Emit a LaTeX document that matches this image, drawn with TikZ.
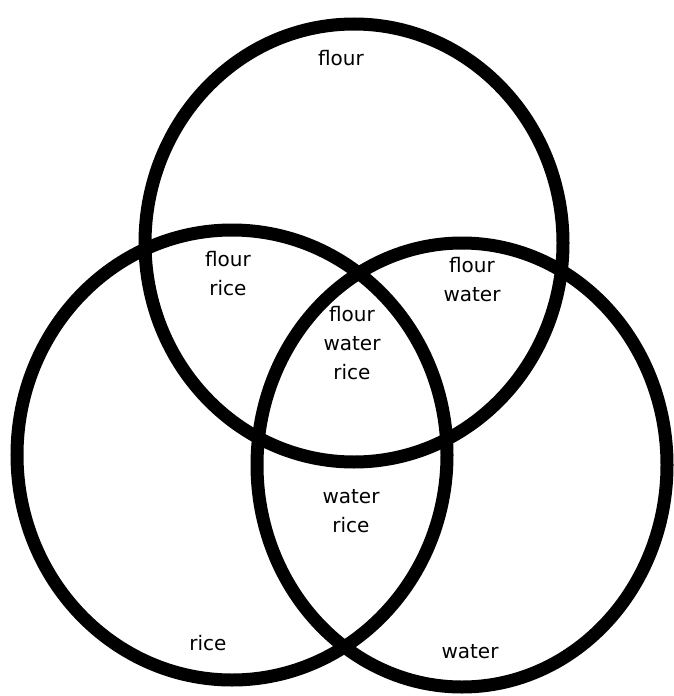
\documentclass[tikz,border=0pt]{standalone}
\usepackage{fontspec}
\setmainfont{DejaVu Sans}
\usepackage{tikz}

\begin{document}
\begin{tikzpicture}[
  x=0.5pt, y=-0.5pt,
  setline/.style={draw=black, line width=6.5pt},
  lbl/.style={align=center, font=\fontsize{10}{14.5}\selectfont, inner sep=0pt}
]
\useasboundingbox (0,0) rectangle (674,696);
% the three sets
\draw[setline] (354,243) ellipse [x radius=209, y radius=219];
\draw[setline] (232,455) ellipse [x radius=215, y radius=225];
\draw[setline] (462,465) ellipse [x radius=205, y radius=222];
% region labels
\node[lbl] (flour) at (341,58) {flour};
\node[lbl] (flourrice) at (228,274) {flour\\rice};
\node[lbl] (flourwater) at (472,280) {flour\\water};
\node[lbl] (all) at (352,343) {flour\\water\\rice};
\node[lbl] (waterrice) at (351,511) {water\\rice};
\node[lbl] (rice) at (208,643) {rice};
\node[lbl] (water) at (470,652) {water};
\end{tikzpicture}
\end{document}
